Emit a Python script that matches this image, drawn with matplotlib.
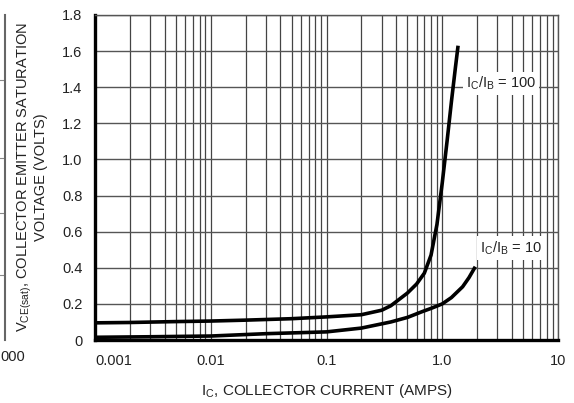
import numpy as np
import matplotlib
matplotlib.use('Agg')
import matplotlib.pyplot as plt
from matplotlib.ticker import LogLocator, NullFormatter

plt.rcParams['font.family'] = ['Liberation Sans', 'DejaVu Sans']
plt.rcParams['mathtext.fontset'] = 'custom'
plt.rcParams['mathtext.rm'] = 'Liberation Sans'

# curve IC/IB = 100
ic_100 = [0.001, 0.002, 0.005, 0.01, 0.02, 0.05, 0.1, 0.2, 0.3, 0.36, 0.5,
          0.6, 0.7, 0.8, 0.9, 1.0, 1.1, 1.2, 1.3, 1.37]
v_100 = [0.095, 0.097, 0.102, 0.105, 0.11, 0.118, 0.128, 0.14, 0.165, 0.19, 0.26,
         0.31, 0.37, 0.47, 0.64, 0.87, 1.10, 1.32, 1.51, 1.63]

# curve IC/IB = 10
ic_10 = [0.001, 0.003, 0.01, 0.03, 0.1, 0.2, 0.36, 0.5, 0.67, 0.8, 1.0,
         1.2, 1.5, 1.7, 1.93]
v_10 = [0.015, 0.018, 0.022, 0.035, 0.045, 0.066, 0.10, 0.125, 0.157, 0.175, 0.2,
        0.235, 0.295, 0.345, 0.406]

x_ticks = [0.001, 0.01, 0.1, 1.0, 10]
x_labels = ['0.001', '0.01', '0.1', '1.0', '10']
y_ticks = [0, 0.2, 0.4, 0.6, 0.8, 1.0, 1.2, 1.4, 1.6, 1.8]
y_labels = ['0', '0.2', '0.4', '0.6', '0.8', '1.0', '1.2', '1.4', '1.6', '1.8']

W, H = 574, 403
fig = plt.figure(figsize=(W / 100, H / 100), dpi=100)
ax = fig.add_axes([95 / W, 1 - 340 / H, 463 / W, 325 / H])

ax.set_xscale('log')
ax.set_xlim(0.001, 10)
ax.set_ylim(0, 1.8)

ax.xaxis.set_minor_locator(LogLocator(base=10, subs=np.arange(2, 10)))
ax.xaxis.set_minor_formatter(NullFormatter())
ax.set_xticks(x_ticks)
ax.set_xticklabels(x_labels)
ax.set_yticks(y_ticks)
ax.set_yticklabels(y_labels)

ax.grid(True, which='both', axis='x', color='#444444', lw=0.9)
ax.grid(True, which='major', axis='y', color='#555555', lw=1.0)
ax.tick_params(which='both', length=0, labelsize=10.5, colors='#222222')
ax.tick_params(axis='y', pad=9)
ax.tick_params(axis='x', pad=10)
ax.get_xticklabels()[0].set_ha('left')

ax.plot(ic_100, v_100, color='black', lw=2.6, solid_capstyle='butt', zorder=3)
ax.plot(ic_10, v_10, color='black', lw=2.6, solid_capstyle='butt', zorder=3)

for s in ['left', 'bottom']:
    ax.spines[s].set_linewidth(2.4)
    ax.spines[s].set_color('black')
for s in ['top', 'right']:
    ax.spines[s].set_linewidth(1.0)
    ax.spines[s].set_color('#555555')

ax.text(3.2, 1.42, r'I$_\mathrm{C}$/I$_\mathrm{B}$ = 100', fontsize=10.5,
        ha='center', va='center', color='#222222',
        bbox=dict(facecolor='white', edgecolor='none', pad=2))
ax.text(3.9, 0.51, r'I$_\mathrm{C}$/I$_\mathrm{B}$ = 10', fontsize=10.5,
        ha='center', va='center', color='#222222',
        bbox=dict(facecolor='white', edgecolor='none', pad=2))

ax.set_xlabel(r'I$_\mathrm{C}$, COLLECTOR CURRENT (AMPS)', fontsize=11,
              color='#222222', labelpad=10)
ax.set_ylabel('V$_\\mathrm{CE(sat)}$, COLLECTOR EMITTER SATURATION\nVOLTAGE (VOLTS)',
              fontsize=10.5, color='#222222', labelpad=10, linespacing=1.05)

# edge of the neighbouring chart, cut off on the left
ax2 = fig.add_axes([-0.1, 1 - 340 / H, 0.1 + 5 / W, 325 / H])
ax2.set_xlim(0, 1)
ax2.set_ylim(0, 1)
for s in ['left', 'top', 'bottom']:
    ax2.spines[s].set_visible(False)
ax2.spines['right'].set_color('#666666')
ax2.spines['right'].set_linewidth(1.5)
ax2.set_yticks([0.2, 0.39, 0.56, 0.8])
ax2.set_yticklabels([])
ax2.set_xticks([])
ax2.grid(True, axis='y', color='#888888', lw=0.8)
ax2.tick_params(length=0)
fig.text(0.0, 1 - 357 / H, '000', fontsize=10.5, color='#222222',
         ha='left', va='center')

fig.savefig('out.png', dpi=100, facecolor='white')
